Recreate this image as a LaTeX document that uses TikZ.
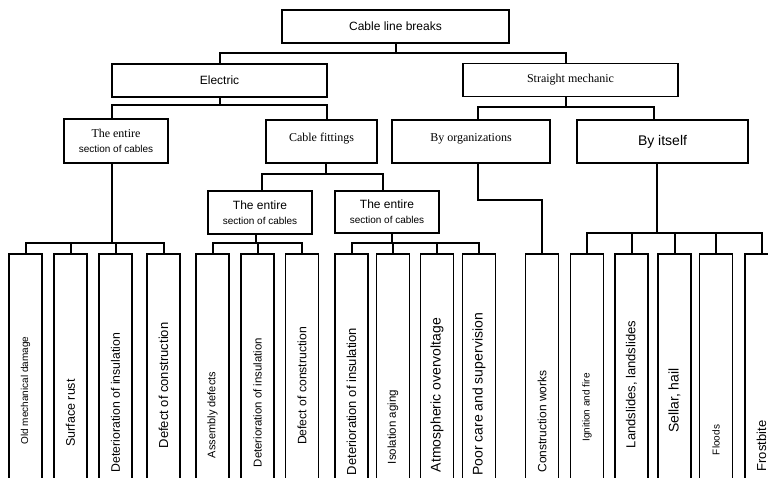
\documentclass[tikz,border=0pt]{standalone}
\usepackage{fontspec}
\usepackage{graphicx}
\setmainfont{Liberation Sans}
\newfontfamily\timesfont{Liberation Serif}
\newcommand{\fsz}[1]{\fontsize{#1}{#1}\selectfont}

\begin{document}
\begin{tikzpicture}[x=1pt, y=-1pt,
        box/.style={draw, line width=1.4pt, inner sep=0pt, align=center},
        leaf/.style={draw, line width=1.4pt, inner sep=0pt, minimum width=33pt},
        link/.style={line width=2pt}]
        \useasboundingbox (0,0) rectangle (768,478);
        \clip (0,0) rectangle (768,478);

        % upper levels
        \node[box, minimum width=227pt, minimum height=33pt, font=\fsz{12}] (breaks) at (395.5,26.5) {Cable line breaks};
        \node[box, minimum width=215pt, minimum height=33pt, font=\fsz{12}] (electric) at (219.5,80.5) {Electric};
        \node[box, minimum width=215pt, minimum height=33pt, font=\timesfont\fsz{12}] (mechanic) at (570.5,80) {Straight mechanic};
        \node[box, minimum width=104pt, minimum height=44pt, font=\fontsize{12}{14.5}\selectfont] (entire) at (116,141)
            {{\timesfont The entire}\\{\fontsize{10}{14.5}\selectfont section of cables}};
        \node[box, minimum width=111pt, minimum height=43pt, text height=9pt, text depth=8pt, font=\timesfont\fsz{12}] (fittings) at (321.5,141.5) {Cable fittings};
        \node[box, minimum width=158pt, minimum height=43pt, text height=9pt, text depth=8pt, font=\timesfont\fsz{12}] (byorg) at (471,141.5) {By organizations};
        \node[box, minimum width=171pt, minimum height=43pt, font=\fsz{14}] (byself) at (662.5,141.5) {By itself};
        \node[box, minimum width=104pt, minimum height=43pt, font=\fontsize{12}{15}\selectfont] (entireA) at (260,212.5)
            {The entire\\{\fontsize{10}{15}\selectfont section of cables}};
        \node[box, minimum width=104pt, minimum height=42pt, font=\fontsize{12}{15}\selectfont] (entireB) at (387,212)
            {The entire\\{\fontsize{10}{15}\selectfont section of cables}};

        % causes
        \node[leaf, minimum height=273pt, font=\fsz{10}] (l1) at (25.5,390.5) {\rotatebox{90}{Old mechanical damage}};
        \node[leaf, minimum height=318pt, font=\fsz{12.5}] (l2) at (70.5,413) {\rotatebox{90}{Surface rust}};
        \node[leaf, minimum height=297pt, font=\fsz{12.3}] (l3) at (115.5,402.5) {\rotatebox{90}{Deterioration of insulation}};
        \node[leaf, minimum height=263pt, font=\fsz{13}] (l4) at (163.5,385.5) {\rotatebox{90}{Defect of construction}};
        \node[leaf, minimum height=322pt, font=\fsz{11}] (l5) at (212.5,415) {\rotatebox{90}{Assembly defects}};
        \node[leaf, minimum height=297pt, font=\fsz{11.4}] (l6) at (257.5,402.5) {\rotatebox{90}{Deterioration of insulation}};
        \node[leaf, minimum height=264pt, font=\fsz{12.2}] (l7) at (302,386) {\rotatebox{90}{Defect of construction}};
        \node[leaf, minimum height=295pt, font=\fsz{13}] (l8) at (351.5,401.5) {\rotatebox{90}{Deterioration of insulation}};
        \node[leaf, minimum height=346pt, font=\fsz{11.5}] (l9) at (393,427) {\rotatebox{90}{Isolation aging}};
        \node[leaf, minimum height=282pt, font=\fsz{14}] (l10) at (437,395) {\rotatebox{90}{Atmospheric overvoltage}};
        \node[leaf, minimum height=281pt, font=\fsz{14}] (l11) at (479,394.5) {\rotatebox{90}{Poor care and supervision}};
        \node[leaf, minimum height=335pt, font=\fsz{12}] (l12) at (542,421.5) {\rotatebox{90}{Construction works}};
        \node[leaf, minimum height=307pt, font=\fsz{10}] (l13) at (587,407.5) {\rotatebox{90}{Ignition and fire}};
        \node[leaf, minimum height=261pt, font=\fsz{13}] (l14) at (631.5,384.5) {\rotatebox{90}{Landslides, landslides}};
        \node[leaf, minimum height=293pt, font=\fsz{14}] (l15) at (674.5,400.5) {\rotatebox{90}{Sellar, hail}};
        \node[leaf, minimum height=372pt, font=\fsz{10}] (l16) at (716,440) {\rotatebox{90}{Floods}};
        \node[leaf, minimum height=384pt, font=\fsz{13}] (l17) at (761.5,446) {\rotatebox{90}{Frostbite}};

        % connectors
        \draw[link] (breaks.south) -- (breaks.south |- 0,53) -| (electric.north);
        \draw[link] (breaks.south |- 0,53) -| ([xshift=-4.5pt]mechanic.north);
        \draw[link] (electric.south) -- (electric.south |- 0,105) -| ([xshift=-4pt]entire.north);
        \draw[link] (electric.south |- 0,105) -| ([xshift=5.5pt]fittings.north);
        \draw[link] ([xshift=-4.5pt]mechanic.south) -- ([xshift=-4.5pt]mechanic.south |- 0,107) -| ([xshift=7pt]byorg.north);
        \draw[link] ([xshift=-4.5pt]mechanic.south |- 0,107) -| ([xshift=-8.5pt]byself.north);
        \draw[link] ([xshift=4.5pt]fittings.south) -- ([xshift=4.5pt]fittings.south |- 0,174) -| ([xshift=2pt]entireA.north);
        \draw[link] ([xshift=4.5pt]fittings.south |- 0,174) -| ([xshift=-4pt]entireB.north);

        \draw[link] ([xshift=-4pt]entire.south) -- ([xshift=-4pt]entire.south |- 0,243) -| (l1.north);
        \draw[link] ([xshift=-4pt]entire.south |- 0,243) -| (l2.north);
        \draw[link] ([xshift=-4pt]entire.south |- 0,243) -| (l3.north);
        \draw[link] ([xshift=-4pt]entire.south |- 0,243) -| (l4.north);

        \draw[link] ([xshift=-4pt]entireA.south) -- ([xshift=-4pt]entireA.south |- 0,243) -| (l5.north);
        \draw[link] ([xshift=-4pt]entireA.south |- 0,243) -| (l6.north);
        \draw[link] ([xshift=-4pt]entireA.south |- 0,243) -| (l7.north);

        \draw[link] ([xshift=5pt]entireB.south) -- ([xshift=5pt]entireB.south |- 0,243) -| (l8.north);
        \draw[link] ([xshift=5pt]entireB.south |- 0,243) -| (l9.north);
        \draw[link] ([xshift=5pt]entireB.south |- 0,243) -| (l10.north);
        \draw[link] ([xshift=5pt]entireB.south |- 0,243) -| (l11.north);

        \draw[link] ([xshift=7pt]byorg.south) -- ([xshift=7pt]byorg.south |- 0,200) -| (l12.north);

        \draw[link] ([xshift=-5.5pt]byself.south) -- ([xshift=-5.5pt]byself.south |- 0,233) -| (l13.north);
        \draw[link] ([xshift=-5.5pt]byself.south |- 0,233) -| (l14.north);
        \draw[link] ([xshift=-5.5pt]byself.south |- 0,233) -| (l15.north);
        \draw[link] ([xshift=-5.5pt]byself.south |- 0,233) -| (l16.north);
        \draw[link] ([xshift=-5.5pt]byself.south |- 0,233) -| (l17.north);
\end{tikzpicture}
\end{document}
